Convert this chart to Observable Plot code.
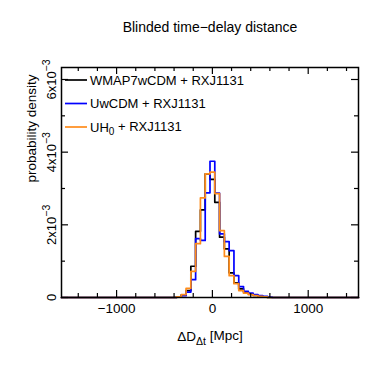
<!DOCTYPE html>
<html>
<head>
<meta charset="utf-8">
<script src="https://cdn.jsdelivr.net/npm/d3@7"></script>
<script src="https://cdn.jsdelivr.net/npm/@observablehq/plot@0.6"></script>
<style>
  html, body { margin: 0; padding: 0; background: #fff; }
  svg { font-family: "Liberation Sans", Arial, Helvetica, sans-serif; }
</style>
</head>
<body>
<div id="chart"></div>
<script>
// ---- data ----
const binCenters = [-350, -300, -250, -200, -150, -100, -50, 0, 50, 100, 150, 200, 250, 300, 350, 400, 450, 500, 550, 600];
const binWidth = 50;
const wmap7wcdm = [2e-5, 7e-5, 1.9e-4, 8.6e-4, 1.82e-3, 2.41e-3, 3.40e-3, 3.25e-3, 2.62e-3, 1.66e-3, 1.34e-3, 6.8e-4, 4.0e-4, 2.4e-4, 1.5e-4, 1.0e-4, 6e-5, 3e-5, 1.5e-5, 0];
const uwcdm     = [1e-5, 5e-5, 1.5e-4, 4.9e-4, 1.62e-3, 1.57e-3, 2.88e-3, 3.75e-3, 2.87e-3, 1.75e-3, 1.54e-3, 1.29e-3, 6.0e-4, 3.0e-4, 1.7e-4, 1.2e-4, 8e-5, 5e-5, 3e-5, 1e-5];
const uh0       = [2e-5, 8e-5, 2.5e-4, 7.2e-4, 1.48e-3, 2.74e-3, 3.40e-3, 3.45e-3, 2.86e-3, 1.84e-3, 1.13e-3, 6.0e-4, 3.8e-4, 1.9e-4, 1.2e-4, 8e-5, 5.5e-5, 3e-5, 1.5e-5, 0];

const seriesNames  = ["WMAP7wCDM + RXJ1131", "UwCDM + RXJ1131", "UH0 + RXJ1131"];
const seriesValues = [wmap7wcdm, uwcdm, uh0];
const seriesColors = ["#000000", "#0000ff", "#ff8c1a"];

const xDomain = [-1575, 1525];
const yDomain = [0, 6.33e-3];
const xMajor = [-1000, 0, 1000];
const xMinor = [-1400, -1200, -800, -600, -400, -200, 200, 400, 600, 800, 1200, 1400];
const yMajor = [0, 2e-3, 4e-3, 6e-3];
const yMinor = [1e-3, 3e-3, 5e-3];

const titleText = "Blinded time\u2212delay distance";
const yLabel = "probability density";
const xLabel = "\u0394D\u0394t [Mpc]";

// ---- build step-line rows ----
const rows = [];
seriesValues.forEach((vals, s) => {
  rows.push({s, x: xDomain[0], y: 0});
  binCenters.forEach((c, i) => rows.push({s, x: c - binWidth / 2, y: vals[i]}));
  rows.push({s, x: binCenters[binCenters.length - 1] + binWidth / 2, y: 0});
  rows.push({s, x: xDomain[1], y: 0});
});

const W = 374, H = 374;
const mL = 61, mR = 16, mT = 67, mB = 77;
const fw = W - mL - mR, fh = H - mT - mB;
const FONT = '"Liberation Sans", Arial, sans-serif';

const marks = [];
seriesValues.forEach((_, s) => {
  marks.push(Plot.line(rows.filter(r => r.s === s), {
    x: "x", y: "y", curve: "step-after", stroke: seriesColors[s], strokeWidth: 1.7
  }));
});
// inward ticks on all four sides
marks.push(
  Plot.tickX(xMajor, {x: d => d, insetTop: fh - 7, strokeWidth: 1.2}),
  Plot.tickX(xMinor, {x: d => d, insetTop: fh - 4, strokeWidth: 1.2}),
  Plot.tickX(xMajor, {x: d => d, insetBottom: fh - 7, strokeWidth: 1.2}),
  Plot.tickX(xMinor, {x: d => d, insetBottom: fh - 4, strokeWidth: 1.2}),
  Plot.tickY(yMajor, {y: d => d, insetRight: fw - 7, strokeWidth: 1.2}),
  Plot.tickY(yMinor, {y: d => d, insetRight: fw - 4, strokeWidth: 1.2}),
  Plot.tickY(yMajor, {y: d => d, insetLeft: fw - 7, strokeWidth: 1.2}),
  Plot.tickY(yMinor, {y: d => d, insetLeft: fw - 4, strokeWidth: 1.2}),
  Plot.frame({stroke: "#000", strokeWidth: 1.5}),
  Plot.axisX({ticks: xMajor, tickSize: 0, tickPadding: 6, label: null, fontSize: 13.5,
    tickFormat: d => d < 0 ? "\u2212" + (-d) : String(d)}),
  Plot.axisY({ticks: yMajor, tickSize: 0, tickPadding: 6, tickRotate: -90, label: null, fontSize: 13,
    tickFormat: d => d === 0 ? "0" : `${Math.round(d * 1000)}x10^\u22123`}),
  Plot.text([titleText], {frameAnchor: "top", dy: -40, fontSize: 14, lineAnchor: "middle"}),
  Plot.text([yLabel], {frameAnchor: "left", dx: -30, rotate: -90, fontSize: 13.5, lineAnchor: "middle"}),
  Plot.text([xLabel], {frameAnchor: "bottom", dy: 39, fontSize: 13.5, lineAnchor: "middle"})
);

const chart = Plot.plot({
  width: W, height: H,
  marginLeft: mL, marginRight: mR, marginTop: mT, marginBottom: mB,
  x: {domain: xDomain},
  y: {domain: yDomain},
  style: {fontFamily: FONT, fontSize: "13px", color: "#000", background: "#fff"},
  marks
});

document.getElementById("chart").appendChild(chart);

const svg = d3.select(chart);
// subscripts in the x label
svg.selectAll("text").filter(function () { return this.textContent === xLabel; })
  .each(function () {
    const t = d3.select(this);
    t.text(null);
    t.append("tspan").text("\u0394D");
    t.append("tspan").attr("font-size", 10.5).attr("dy", "0.35em").text("\u0394t");
    t.append("tspan").attr("dy", "-0.3em").text(" [Mpc]");
  });
// superscript exponents in y tick labels
svg.selectAll("text").filter(function () { return this.textContent.includes("^"); })
  .each(function () {
    const t = d3.select(this);
    const [base, exp] = this.textContent.split("^");
    t.text(null);
    t.append("tspan").text(base);
    t.append("tspan").attr("font-size", 10.5).attr("dy", "-0.5em").text(exp);
  });

// legend inside the frame
const legend = svg.append("g").attr("font-size", 13).attr("font-family", FONT).attr("text-anchor", "start");
seriesNames.forEach((name, i) => {
  const y = 80 + i * 23.5;
  legend.append("line").attr("x1", 65).attr("x2", 87).attr("y1", y).attr("y2", y)
    .attr("stroke", seriesColors[i]).attr("stroke-width", 1.7);
  const t = legend.append("text").attr("x", 90).attr("y", y).attr("dy", "0.35em").attr("text-anchor", "start");
  if (name.startsWith("UH0")) {
    t.append("tspan").text("UH");
    t.append("tspan").attr("font-size", 10).attr("dy", "0.35em").text("0");
    t.append("tspan").attr("dy", "-0.35em").text(name.slice(3));
  } else {
    t.text(name);
  }
});
</script>
</body>
</html>
